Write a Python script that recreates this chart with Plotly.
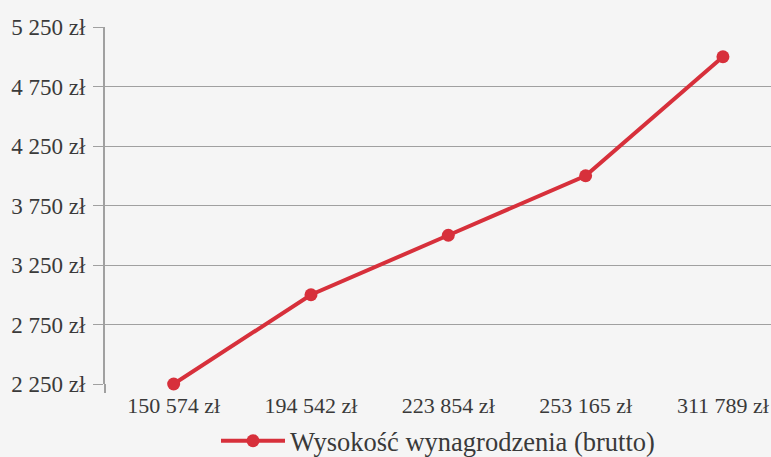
import plotly.graph_objects as go

categories = ["150 574 zł", "194 542 zł", "223 854 zł", "253 165 zł", "311 789 zł"]
values = [2250, 3000, 3500, 4000, 5000]
series_name = "Wysokość wynagrodzenia (brutto)"
y_tickvals = [2250, 2750, 3250, 3750, 4250, 4750, 5250]
y_ticktext = ["2 250 zł", "2 750 zł", "3 250 zł", "3 750 zł", "4 250 zł", "4 750 zł", "5 250 zł"]

RED = "#d7303b"
FONT = "Liberation Serif"

fig = go.Figure()
fig.add_trace(go.Scatter(
    x=categories, y=values, name=series_name, mode="lines+markers",
    line=dict(color=RED, width=4),
    marker=dict(color=RED, size=13),
    cliponaxis=False,
))

fig.update_layout(
    width=771, height=457,
    paper_bgcolor="#f5f5f5", plot_bgcolor="#f5f5f5",
    margin=dict(l=105, r=0, t=27, b=73, autoexpand=False),
    font=dict(family=FONT, size=23, color="#3a3a3a"),
    showlegend=True,
    legend=dict(orientation="h", x=0.5, xanchor="center",
                yref="container", y=(457 - 441) / 457, yanchor="middle",
                font=dict(family=FONT, size=26.5, color="#3a3a3a"),
                itemwidth=64,
                bgcolor="rgba(0,0,0,0)"),
    xaxis=dict(type="category", range=[-0.5, 4.35], showgrid=False, showline=False,
               zeroline=False, ticks="", tickfont=dict(size=22), automargin=False,
               ticklabelstandoff=6),
    yaxis=dict(range=[2250, 5250], tickvals=y_tickvals, ticktext=y_ticktext,
               showgrid=True, gridcolor="#a0a0a0", gridwidth=1,
               showline=True, linecolor="#a0a0a0", linewidth=2,
               ticks="outside", ticklen=10, tickcolor="#a0a0a0", tickwidth=1,
               zeroline=False, tickfont=dict(size=23), automargin=False,
               ticklabelstandoff=3),
)
fig.add_shape(type="line", xref="paper", yref="paper", x0=0, x1=0, y0=0, y1=-0.025,
              line=dict(color="#a0a0a0", width=2))

fig.write_html("out.html", config={"displayModeBar": False},
               post_script="document.body.style.margin='0px';")
